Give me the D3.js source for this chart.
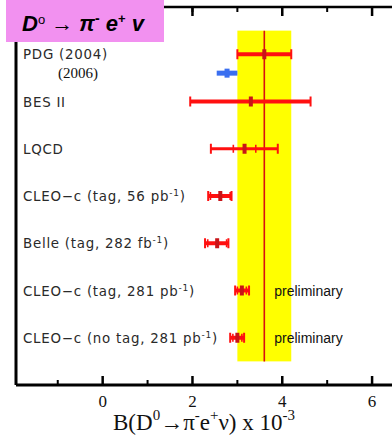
<!DOCTYPE html>
<html><head><meta charset="utf-8">
<script src="https://cdn.jsdelivr.net/npm/d3@7"></script>
<style>body{margin:0;background:#fff}svg{display:block}</style>
</head><body>
<svg id="c" width="392" height="437"></svg>
<script>
// Measurements of B(D0 -> pi- e+ nu), in units of 1e-3
const labels = ["PDG (2004)", "BES II", "LQCD", "CLEO\u2212c (tag, 56 pb|-1)", "Belle (tag, 282 fb|-1)", "CLEO\u2212c (tag, 281 pb|-1)", "CLEO\u2212c (no tag, 281 pb|-1)"];
const central = [3.60, 3.30, 3.16, 2.62, 2.55, 3.10, 3.00];
const errLow  = [0.60, 1.35, 0.75, 0.27, 0.27, 0.15, 0.16];
const errHigh = [0.60, 1.33, 0.74, 0.25, 0.25, 0.16, 0.15];
const statErr = [0, 0, 0.25, 0.22, 0.21, 0.10, 0.10];
const preliminary = [false, false, false, false, false, true, true];
// PDG 2006 value, drawn in blue below the 2004 entry
const pdg2006 = {value: 2.77, err: 0.23};
// Average band
const average = {value: 3.6, err: 0.6};
const majorTicks = [0, 2, 4, 6];
const minorTicks = [-1, 1, 3, 5];

const svg = d3.select("#c");
const x = d3.scaleLinear().domain([-1.93, 6.8]).range([16, 408]);
const y = d3.scaleLinear().domain([-1, 7]).range([7, 385]);
const RED = "#ff1010", DARK = "#c81418", BLUE = "#3a6ff0";

// average band and central line
svg.append("rect")
  .attr("x", x(average.value - average.err)).attr("y", y(-0.5))
  .attr("width", x(average.value + average.err) - x(average.value - average.err))
  .attr("height", y(6.5) - y(-0.5)).attr("fill", "#ffff00");
svg.append("line")
  .attr("x1", x(average.value)).attr("x2", x(average.value))
  .attr("y1", y(-0.5)).attr("y2", y(6.5))
  .attr("stroke", "#d81010").attr("stroke-width", 1.6);

// error bars
const rows = central.map((c, i) => ({i, c, lo: c - errLow[i], hi: c + errHigh[i], st: statErr[i]}));
const g = svg.append("g").selectAll("g").data(rows).join("g");
g.append("line")
  .attr("x1", d => x(d.lo)).attr("x2", d => x(d.hi))
  .attr("y1", d => y(d.i)).attr("y2", d => y(d.i))
  .attr("stroke", RED).attr("stroke-width", d => d.i === 2 ? 3 : 4);
g.selectAll("line.cap").data(d => [d.lo, d.hi].map(v => ({v, i: d.i}))).join("line")
  .attr("class", "cap")
  .attr("x1", d => x(d.v)).attr("x2", d => x(d.v))
  .attr("y1", d => y(d.i) - 5).attr("y2", d => y(d.i) + 5)
  .attr("stroke", RED).attr("stroke-width", 2);
g.filter(d => d.st > 0).selectAll("line.stat")
  .data(d => [d.c - d.st, d.c + d.st].map(v => ({v, i: d.i}))).join("line")
  .attr("class", "stat")
  .attr("x1", d => x(d.v)).attr("x2", d => x(d.v))
  .attr("y1", d => y(d.i) - 4).attr("y2", d => y(d.i) + 4)
  .attr("stroke", RED).attr("stroke-width", 1.6);
g.append("rect")
  .attr("x", d => x(d.c) - 2).attr("y", d => y(d.i) - 5)
  .attr("width", 4).attr("height", 10).attr("fill", DARK);

// PDG 2006
const yb = y(0.4);
svg.append("line")
  .attr("x1", x(pdg2006.value - pdg2006.err)).attr("x2", x(pdg2006.value + pdg2006.err))
  .attr("y1", yb).attr("y2", yb).attr("stroke", BLUE).attr("stroke-width", 5);
svg.append("rect")
  .attr("x", x(pdg2006.value) - 2.5).attr("y", yb - 4.5)
  .attr("width", 5).attr("height", 9).attr("fill", BLUE);

// row labels; "|" marks the start of a superscript
function addLabel(sel, s) {
  const parts = s.split("|");
  sel.append("tspan").text(parts[0]);
  if (parts.length > 1) {
    sel.append("tspan").attr("dy", -5).attr("font-size", 9).text(parts[1]);
    sel.append("tspan").attr("dy", 5).text(")");
  }
}
labels.forEach((s, i) => {
  const t = svg.append("text").attr("x", 23).attr("y", y(i) + 5)
    .attr("font-family", "DejaVu Sans").attr("font-size", 13.4).attr("letter-spacing", 0.75)
    .attr("fill", "#2a2a2a");
  addLabel(t, s.endsWith(")") && s.includes("|") ? s.slice(0, -1) : s);
});
svg.append("text").attr("x", 58).attr("y", yb + 5)
  .attr("font-family", "Liberation Serif").attr("font-size", 15).attr("fill", "#111")
  .text("(2006)");
rows.filter(d => preliminary[d.i]).forEach(d => {
  svg.append("text").attr("x", x(average.value + 0.22)).attr("y", y(d.i) + 5)
    .attr("font-family", "Liberation Sans").attr("font-size", 14).attr("fill", "#111")
    .text("preliminary");
});

// frame and axes
const frame = svg.append("g").attr("stroke", "#000");
frame.append("line").attr("x1", x.range()[0]).attr("x2", 392)
  .attr("y1", y(7)).attr("y2", y(7)).attr("stroke-width", 3);
frame.append("line").attr("x1", x.range()[0]).attr("x2", 392)
  .attr("y1", y(-1)).attr("y2", y(-1)).attr("stroke-width", 2.5);
frame.append("line").attr("x1", x.range()[0]).attr("x2", x.range()[0])
  .attr("y1", y(-1)).attr("y2", y(7)).attr("stroke-width", 3);
frame.selectAll("line.mb").data(majorTicks).join("line").attr("class", "mb")
  .attr("x1", d => x(d)).attr("x2", d => x(d)).attr("y1", y(7)).attr("y2", y(7) - 9)
  .attr("stroke-width", 2.5);
frame.selectAll("line.nb").data(minorTicks).join("line").attr("class", "nb")
  .attr("x1", d => x(d)).attr("x2", d => x(d)).attr("y1", y(7)).attr("y2", y(7) - 5)
  .attr("stroke-width", 2);
frame.selectAll("line.mt").data(majorTicks).join("line").attr("class", "mt")
  .attr("x1", d => x(d)).attr("x2", d => x(d)).attr("y1", y(-1)).attr("y2", y(-1) + 9)
  .attr("stroke-width", 2.5);
frame.selectAll("line.nt").data(minorTicks.concat([2])).join("line").attr("class", "nt")
  .attr("x1", d => x(d)).attr("x2", d => x(d)).attr("y1", y(-1)).attr("y2", y(-1) + 5)
  .attr("stroke-width", 2);
svg.selectAll("text.tick").data(majorTicks).join("text").attr("class", "tick")
  .attr("x", d => x(d)).attr("y", 407).attr("text-anchor", "middle")
  .attr("font-family", "Liberation Serif").attr("font-size", 17).attr("fill", "#111")
  .text(d => d);

// axis title
const at = svg.append("text").attr("x", 113).attr("y", 430)
  .attr("font-family", "Liberation Serif").attr("font-size", 23).attr("fill", "#111");
[["B(D", 0], ["0", -10], ["\u2192\u03c0", 10], ["-", -10], ["e", 10], ["+", -10], ["\u03bd) x 10", 10], ["-3", -10]]
  .forEach(([s, dy], k) => {
    const sup = k % 2 === 1;
    at.append("tspan").attr("dy", dy).attr("font-size", sup ? 15 : 23).text(s);
  });

// title box
svg.append("rect").attr("x", 6).attr("y", 0).attr("width", 158).attr("height", 42).attr("fill", "#f291f0");
const tt = svg.append("text").attr("x", 22).attr("y", 31)
  .attr("font-family", "Liberation Sans").attr("font-size", 22).attr("fill", "#000");
tt.append("tspan").attr("font-weight", "bold").attr("font-style", "italic").text("D");
tt.append("tspan").attr("font-size", 13).attr("dy", -7).text("o");
tt.append("tspan").attr("dy", 7).text(" \u2192 ");
tt.append("tspan").attr("font-weight", "bold").attr("font-style", "italic").text("\u03c0");
tt.append("tspan").attr("font-weight", "bold").attr("font-size", 14).attr("dy", -8).text("-");
tt.append("tspan").attr("font-weight", "bold").attr("font-style", "italic").attr("dy", 8).text(" e");
tt.append("tspan").attr("font-weight", "bold").attr("font-size", 13).attr("dy", -8).text("+");
tt.append("tspan").attr("font-weight", "bold").attr("font-style", "italic").attr("dy", 8).text(" v");
</script>
</body></html>
